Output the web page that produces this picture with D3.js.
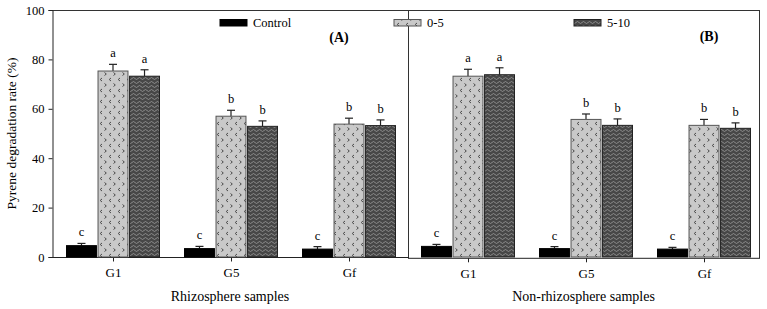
<!DOCTYPE html>
<html><head><meta charset="utf-8">
<script src="https://cdn.jsdelivr.net/npm/d3@7"></script>
<style>body{margin:0;background:#fff}svg{display:block}svg text{font-family:'Liberation Serif','Times New Roman',serif !important}</style>
</head><body><div id="chart"></div>
<script>
const groups = ["G1","G5","Gf"];
const series = ["Control","0-5","5-10"];
const panels = ["Rhizosphere samples","Non-rhizosphere samples"];
const panelTags = ["(A)","(B)"];
const rhizoValues = [[4.6,75.3,73.2],[3.4,57.0,52.9],[3.2,53.8,53.2]];
const rhizoErrors = [[0.9,2.7,2.6],[0.9,2.4,2.2],[1.0,2.4,2.3]];
const rhizoLetters = [["c","a","a"],["c","b","b"],["c","b","b"]];
const nonValues = [[4.3,73.2,73.8],[3.4,55.7,53.3],[3.2,53.3,52.1]];
const nonErrors = [[0.8,2.8,2.8],[0.8,2.2,2.6],[0.7,2.4,2.2]];
const nonLetters = [["c","a","a"],["c","b","b"],["c","b","b"]];
const yTicks = [0,20,40,60,80,100];

const FF="'Liberation Serif','Times New Roman',serif";
const W=767,H=309;
const svg=d3.select("#chart").append("svg").attr("width",W).attr("height",H).attr("font-family",FF);
const defs=svg.append("defs");
const p1=defs.append("pattern").attr("id","chev").attr("patternUnits","userSpaceOnUse").attr("width",9).attr("height",11);
p1.append("rect").attr("width",9).attr("height",11).attr("fill","#c9c9c9");
p1.append("path").attr("d","M3,1 L1.2,2.5 L3,4").attr("fill","none").attr("stroke","#4a4a4a").attr("stroke-width",1);
p1.append("path").attr("d","M5.5,6.5 L7.3,8 L5.5,9.5").attr("fill","none").attr("stroke","#4a4a4a").attr("stroke-width",1);
const p2=defs.append("pattern").attr("id","wave").attr("patternUnits","userSpaceOnUse").attr("width",6).attr("height",4);
p2.append("rect").attr("width",6).attr("height",4).attr("fill","#474747");
p2.append("path").attr("d","M0,2.5 Q1.5,0.5 3,2.5 T6,2.5").attr("fill","none").attr("stroke","#9a9a9a").attr("stroke-width",0.8);

const fills={"Control":"#000","0-5":"url(#chev)","5-10":"url(#wave)"};
const strokes={"Control":"#000","0-5":"#555","5-10":"#222"};

const y=d3.scaleLinear().domain([0,100]).range([257,10]);
const panelRanges=[[54,408],[409,763]];
const frameX=[52,408,759];
const inner=d3.scaleBand().domain(series).range([-46.5,46.5]).paddingInner(0.05);

const fr=svg.append("g").attr("stroke","#333").attr("stroke-width",1).attr("fill","none");
fr.append("line").attr("x1",frameX[0]).attr("x2",frameX[2]).attr("y1",10.5).attr("y2",10.5);
fr.append("line").attr("x1",frameX[1]+0.5).attr("x2",frameX[1]+0.5).attr("y1",10).attr("y2",257);
fr.append("line").attr("x1",frameX[2]+0.5).attr("x2",frameX[2]+0.5).attr("y1",10).attr("y2",258);

const ya=svg.append("g").attr("transform",`translate(${frameX[0]+0.5},0)`)
  .call(d3.axisLeft(y).tickValues(yTicks).tickSize(4).tickPadding(4));
ya.attr("font-family",FF);
ya.select(".domain").attr("stroke","#222");
ya.selectAll("line").attr("stroke","#222");
ya.selectAll("text").attr("font-size",12.5).attr("fill","#000").attr("font-family",FF);

const data=[{v:rhizoValues,e:rhizoErrors,l:rhizoLetters},{v:nonValues,e:nonErrors,l:nonLetters}];
data.forEach((d,pi)=>{
  const x=d3.scalePoint().domain(groups).range(panelRanges[pi]).padding(0.5);
  const xa=svg.append("g").attr("transform",`translate(0,${257.5+pi*0.8})`)
    .call(d3.axisBottom(x).tickSize(4).tickPadding(6).tickSizeOuter(0));
  xa.attr("font-family",FF);
  xa.select(".domain").attr("d",`M${frameX[pi]},0H${frameX[pi+1]+1}`).attr("stroke","#222");
  xa.selectAll("line").attr("stroke","#222");
  xa.selectAll("text").attr("font-size",13).attr("fill","#000").attr("font-family",FF);
  const g=svg.append("g");
  groups.forEach((gr,gi)=>{
    series.forEach((s,si)=>{
      const v=d.v[gi][si], e=d.e[gi][si];
      const bx=x(gr)+inner(s), bw=inner.bandwidth(), cx=bx+bw/2;
      const top=y(v+e);
      g.append("line").attr("x1",cx).attr("x2",cx).attr("y1",y(v)).attr("y2",top).attr("stroke","#222").attr("stroke-width",1.2);
      g.append("line").attr("x1",cx-4).attr("x2",cx+4).attr("y1",top).attr("y2",top).attr("stroke","#222").attr("stroke-width",1.2);
      g.append("rect").attr("x",bx).attr("y",y(v)).attr("width",bw).attr("height",y(0)-y(v))
        .attr("fill",fills[s]).attr("stroke",strokes[s]).attr("stroke-width",1);
      g.append("text").attr("x",cx).attr("y",top-7).attr("text-anchor","middle").attr("font-size",12.5).attr("fill","#000").text(d.l[gi][si]);
    });
  });
  const mid=(frameX[pi]+frameX[pi+1])/2;
  svg.append("text").attr("x",mid).attr("y",301).attr("text-anchor","middle").attr("font-size",14).attr("fill","#000").text(panels[pi]);
  svg.append("text").attr("x",pi===0?339:709).attr("y",pi===0?42:41).attr("text-anchor","middle").attr("font-size",14).attr("font-weight","bold").attr("fill","#000").text(panelTags[pi]);
});

svg.append("text").attr("transform",`translate(16,${y(50)}) rotate(-90)`).attr("text-anchor","middle").attr("font-size",13.5).attr("fill","#000").text("Pyrene degradation rate (%)");

const legX=[220,394,574];
series.forEach((s,i)=>{
  svg.append("rect").attr("x",legX[i]).attr("y",19.5).attr("width",27).attr("height",6.5).attr("fill",fills[s]).attr("stroke",strokes[s]);
  svg.append("text").attr("x",legX[i]+33).attr("y",27).attr("font-size",12.5).attr("fill","#000").text(s);
});
</script></body></html>
